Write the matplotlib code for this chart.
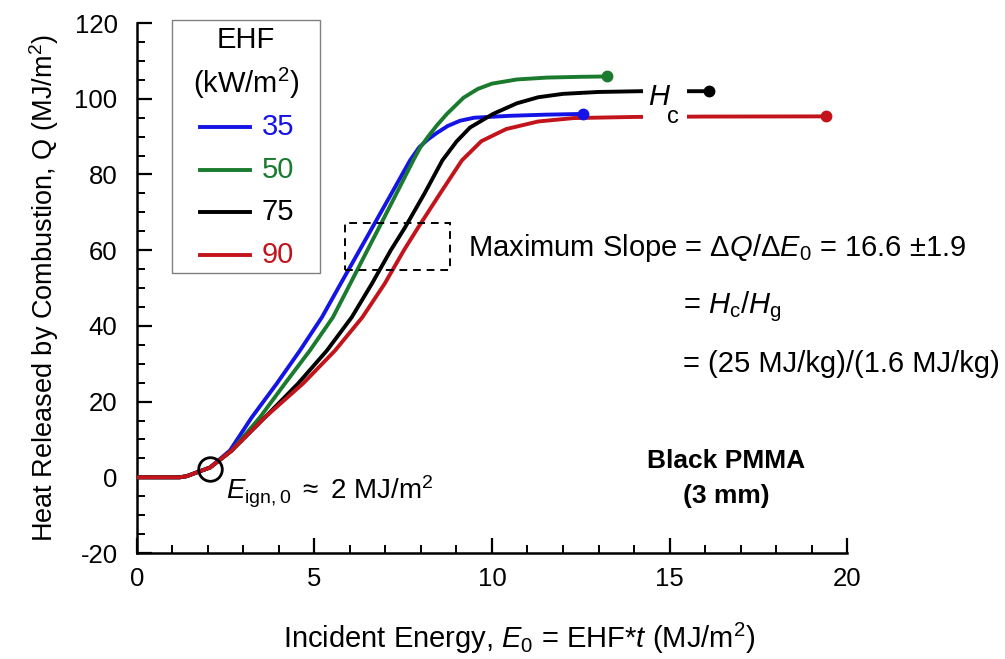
import matplotlib
matplotlib.use("Agg")
import matplotlib.pyplot as plt
from matplotlib.patches import Rectangle

plt.rcParams['font.family'] = ['Liberation Sans', 'DejaVu Sans']
plt.rcParams['mathtext.fontset'] = 'custom'
plt.rcParams['mathtext.rm'] = 'Liberation Sans'
plt.rcParams['mathtext.it'] = 'Liberation Sans:italic'
plt.rcParams['axes.unicode_minus'] = False

# EHF levels (kW/m2) and colours
ehf_labels = ["35", "50", "75", "90"]
colores = ["#1414e6", "#1a7a2e", "#000000", "#c3141c"]

# curvas: energia incidente E0 (MJ/m2) vs Q (MJ/m2)
e_35 = [0, 1.2, 1.4, 1.6, 2.06, 2.62, 3.23, 3.94, 4.59, 5.21, 5.74, 6.27, 6.63, 7.17, 7.69, 7.95, 8.2, 8.45, 8.75, 9.1, 9.5, 10.5, 11.5, 12.56]
q_35 = [0, 0, 0.3, 1.0, 2.6, 7.1, 15.8, 24.8, 33.5, 42.3, 51.2, 60, 66, 75, 83.7, 87.2, 89.3, 91, 92.8, 94.2, 95, 95.5, 95.8, 96.0]

e_50 = [0, 1.2, 1.4, 1.6, 2.06, 2.66, 3.46, 4.17, 4.87, 5.52, 6.01, 6.49, 6.82, 7.31, 7.78, 7.97, 8.2, 8.45, 8.73, 9.2, 9.6, 10.0, 10.7, 11.55, 12.5, 13.24]
q_50 = [0, 0, 0.3, 1.0, 2.6, 7.0, 15.8, 24.8, 33.5, 42.3, 51.2, 60, 66, 75, 83.7, 87.0, 90, 93, 96, 100.3, 102.6, 104, 105.1, 105.6, 105.8, 105.9]

e_75 = [0, 1.2, 1.4, 1.6, 2.06, 2.66, 3.6, 4.54, 5.35, 6.05, 6.62, 7.15, 7.55, 8.1, 8.6, 9.0, 9.38, 10.03, 10.7, 11.3, 12.0, 13.0, 14.17, 15.0, 16.1]
q_75 = [0, 0, 0.3, 1.0, 2.6, 7.0, 15.8, 24.8, 33.5, 42.3, 51.2, 60, 66, 75, 83.7, 88.7, 92.4, 96, 98.8, 100.4, 101.3, 101.8, 102, 102, 102]

e_90 = [0, 1.2, 1.4, 1.6, 2.06, 2.66, 3.6, 4.68, 5.58, 6.35, 6.98, 7.52, 7.92, 8.54, 9.15, 9.7, 10.4, 11.3, 12.3, 14.0, 16.0, 19.4]
q_90 = [0, 0, 0.3, 1.0, 2.6, 7.0, 15.8, 24.8, 33.5, 42.3, 51.2, 60, 66, 75, 83.7, 88.8, 92, 94, 94.9, 95.2, 95.3, 95.35]

series_e = [e_35, e_50, e_75, e_90]
series_q = [q_35, q_50, q_75, q_90]

fig = plt.figure(figsize=(10.05, 6.59), dpi=100)
ax = fig.add_axes([0.1363, 0.1608, 0.7065, 0.8042])

for e, q, c in zip(series_e, series_q, colores):
    ax.plot(e, q, color=c, lw=2.8, solid_capstyle='round', solid_joinstyle='round', zorder=3)
    ax.plot(e[-1], q[-1], 'o', color=c, ms=7.5, zorder=4)

ax.set_xlim(0, 20)
ax.set_ylim(-20, 120)
ax.set_xticks([0, 5, 10, 15, 20])
ax.set_yticks(range(-20, 121, 20))
ax.set_xticks(range(0, 21), minor=True)
ax.set_yticks(range(-20, 121, 5), minor=True)
ax.spines['top'].set_visible(False)
ax.spines['right'].set_visible(False)
for s in ['left', 'bottom']:
    ax.spines[s].set_linewidth(1.8)
ax.tick_params(which='major', direction='in', length=11, width=1.6, labelsize=18.5)
ax.tick_params(which='minor', direction='in', length=6, width=1.4)
ax.tick_params(axis='x', which='major', pad=10)
ax.tick_params(axis='y', which='major', pad=14)

ax.set_xlabel(r"Incident Energy, $E_0$ = EHF*$t$ (MJ/m$^2$)", fontsize=21)
ax.xaxis.set_label_coords(0.539, -0.128)
ax.set_ylabel(r"Heat Released by Combustion, Q (MJ/m$^2$)", fontsize=19.5, labelpad=10)

# leyenda hecha a mano (coordenadas de ejes)
ta = ax.transAxes
ax.add_patch(Rectangle((0.0493, 0.5283), 0.2084, 0.4774, transform=ta, fill=False,
                       ec='#808080', lw=1.0, clip_on=False, zorder=8))
ax.text(0.1535, 0.968, "EHF", transform=ta, fontsize=21, ha='center', va='center')
ax.text(0.1535, 0.887, "(kW/m$^2$)", transform=ta, fontsize=21, ha='center', va='center')
for i, (lab, c) in enumerate(zip(ehf_labels, colores)):
    yy = 0.8038 - i * 0.0805
    ax.plot([0.0887, 0.1592], [yy, yy], color=c, lw=2.8, transform=ta, clip_on=False)
    ax.text(0.176, yy, lab, color=c, fontsize=21, transform=ta, ha='left', va='center')

# caja de pendiente maxima
ax.add_patch(Rectangle((5.86, 54.7), 8.82 - 5.86, 67.1 - 54.7, fill=False,
                       ls=(0, (4, 3)), lw=1.4, ec='black', zorder=5))

ax.text(9.32, 60.5, r"Maximum Slope = $\Delta Q/\Delta E_0$ = 16.6 $\pm$1.9",
        fontsize=21, va='center', ha='left')
ax.text(15.38, 45, r"= $H_\mathrm{c}/H_\mathrm{g}$", fontsize=21, va='center', ha='left')
ax.text(15.38, 30, "= (25 MJ/kg)/(1.6 MJ/kg)", fontsize=21, va='center', ha='left')

ax.text(16.6, -0.3, "Black PMMA\n(3 mm)", fontsize=19, fontweight='bold',
        ha='center', va='center', linespacing=1.6)

# ignicion
ax.plot(2.06, 2.2, 'o', mfc='none', mec='black', ms=17, mew=2, zorder=6)
ax.text(2.5, -3.8, r"$E_\mathrm{ign,0}$ $\approx$ 2 MJ/m$^2$", fontsize=20,
        va='center', ha='left')

# etiqueta H_c que corta las curvas 75 y 90
ax.add_patch(Rectangle((14.25, 92), 1.25, 13, fc='white', ec='none', zorder=6))
ax.text(14.39, 100.5, "H", fontsize=21, style='italic', va='center', ha='left', zorder=7)
ax.text(14.93, 95.1, "c", fontsize=17, va='center', ha='left', zorder=7)

fig.savefig("out.png", dpi=100)
